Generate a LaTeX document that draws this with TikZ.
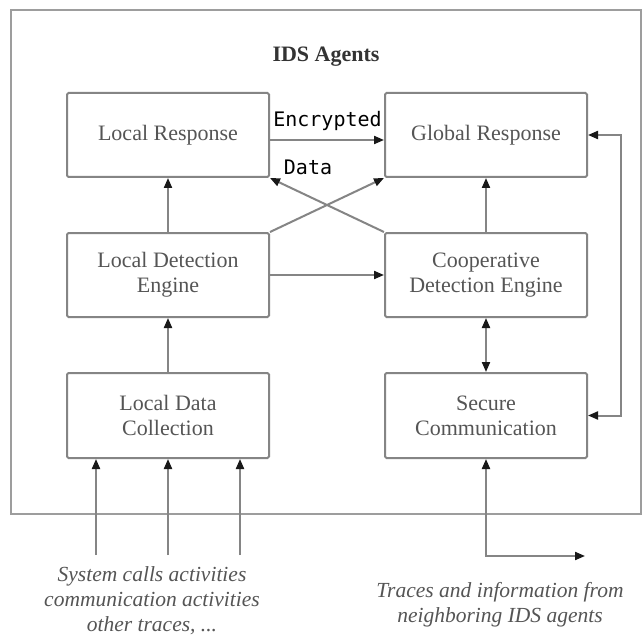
\documentclass[tikz,border=0pt]{standalone}
\usepackage{fontspec}
\setmainfont{Liberation Serif}
\newfontfamily\monofnt{DejaVu Sans Mono}
\usetikzlibrary{arrows.meta}
\definecolor{linegray}{HTML}{858585}
\definecolor{textgray}{HTML}{555555}
\tikzset{
  blockbox/.style={draw=linegray, line width=2pt, rounded corners=1.5pt, minimum width=202pt, minimum height=84pt, inner sep=0pt, align=center, text=textgray, font=\fontsize{22}{25}\selectfont},
  conn/.style={draw=linegray, line width=2pt, >={Triangle[length=10pt,width=8pt,color=black!90]}},
  caption/.style={align=center, text=textgray, inner sep=0pt, font=\fontsize{21.5}{25}\selectfont\itshape},
  lbl/.style={anchor=base, text=black, font=\monofnt\fontsize{20}{24}\selectfont, inner sep=0pt}
}
\begin{document}
\begin{tikzpicture}[x=1pt,y=-1pt]
\useasboundingbox (0,0) rectangle (642,639);
\fill[white] (0,0) rectangle (642,639);
% outer frame
\draw[draw=linegray!80, line width=1.8pt] (11,10) rectangle (641,514);
\node[text=black!80, font=\fontsize{22}{25}\selectfont\bfseries] (title) at (326,57) {IDS Agents};
% boxes
\node[blockbox] (LR) at (168,135) {Local Response};
\node[blockbox] (GR) at (486,135) {Global Response};
\node[blockbox] (LD) at (168,275) {Local Detection\\Engine};
\node[blockbox] (CD) at (486,275) {Cooperative\\Detection Engine};
\node[blockbox, minimum height=85pt] (LDC) at (168,415.5) {Local Data\\Collection};
\node[blockbox, minimum height=85pt] (SC) at (486,415.5) {Secure\\Communication};
% labels
\node[lbl] (enc) at (327.5,127) {Encrypted};
\node[lbl] (dat) at (308,175) {Data};
% connectors
\draw[conn,->] ([yshift=-5pt]LR.east) -- ([yshift=-5pt]GR.west);
\draw[conn,->] (LD.north) -- (LR.south);
\draw[conn,->] (CD.north) -- (GR.south);
\draw[conn,->] (LD.north east) -- (GR.south west);
\draw[conn,->] (CD.north west) -- (LR.south east);
\draw[conn,->] (LD.east) -- (CD.west);
\draw[conn,<->] (CD.south) -- (SC.north);
\draw[conn,->] (LDC.north) -- (LD.south);
\coordinate (rx) at (621,0);
\draw[conn,<->] (GR.east) -- (GR.east -| rx) -- (SC.east -| rx) -- (SC.east);
\coordinate (b1) at (96,555);
\coordinate (b2) at (168,555);
\coordinate (b3) at (240,555);
\draw[conn,->] (b1) -- (b1 |- LDC.south);
\draw[conn,->] (b2) -- (b2 |- LDC.south);
\draw[conn,->] (b3) -- (b3 |- LDC.south);
\coordinate (c1) at (486,556);
\coordinate (c2) at (585,556);
\draw[conn,<->] (SC.south) -- (c1) -- (c2);
% captions
\node[caption] (capL) at (152,601) {System calls activities\\communication activities\\other traces, ...};
\node[caption] (capR) at (500,605) {Traces and information from\\neighboring IDS agents};
\end{tikzpicture}
\end{document}
